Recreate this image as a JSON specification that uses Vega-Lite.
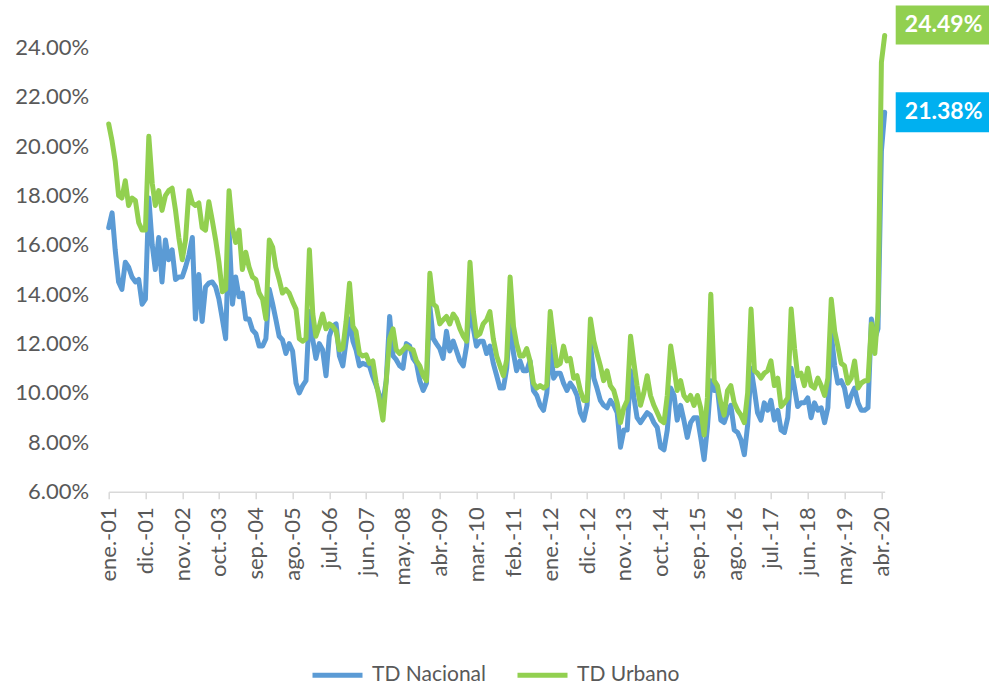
{
  "$schema": "https://vega.github.io/schema/vega-lite/v6.json",
  "width": 776,
  "height": 444.2,
  "autosize": "none",
  "padding": {"left": 108.7, "top": 47.5, "right": 104.3, "bottom": 192.3},
  "background": "white",
  "config": {"view": {"stroke": null}, "font": "Lato"},
  "data": {"values": [
    {"fecha":"2001-01-01","TD Nacional":0.167,"TD Urbano":0.209},
    {"fecha":"2001-02-01","TD Nacional":0.173,"TD Urbano":0.202},
    {"fecha":"2001-03-01","TD Nacional":0.158,"TD Urbano":0.194},
    {"fecha":"2001-04-01","TD Nacional":0.145,"TD Urbano":0.180},
    {"fecha":"2001-05-01","TD Nacional":0.142,"TD Urbano":0.179},
    {"fecha":"2001-06-01","TD Nacional":0.153,"TD Urbano":0.186},
    {"fecha":"2001-07-01","TD Nacional":0.151,"TD Urbano":0.176},
    {"fecha":"2001-08-01","TD Nacional":0.147,"TD Urbano":0.179},
    {"fecha":"2001-09-01","TD Nacional":0.145,"TD Urbano":0.178},
    {"fecha":"2001-10-01","TD Nacional":0.146,"TD Urbano":0.169},
    {"fecha":"2001-11-01","TD Nacional":0.136,"TD Urbano":0.166},
    {"fecha":"2001-12-01","TD Nacional":0.138,"TD Urbano":0.166},
    {"fecha":"2002-01-01","TD Nacional":0.179,"TD Urbano":0.204},
    {"fecha":"2002-02-01","TD Nacional":0.160,"TD Urbano":0.185},
    {"fecha":"2002-03-01","TD Nacional":0.150,"TD Urbano":0.176},
    {"fecha":"2002-04-01","TD Nacional":0.163,"TD Urbano":0.182},
    {"fecha":"2002-05-01","TD Nacional":0.145,"TD Urbano":0.174},
    {"fecha":"2002-06-01","TD Nacional":0.162,"TD Urbano":0.180},
    {"fecha":"2002-07-01","TD Nacional":0.154,"TD Urbano":0.182},
    {"fecha":"2002-08-01","TD Nacional":0.158,"TD Urbano":0.183},
    {"fecha":"2002-09-01","TD Nacional":0.146,"TD Urbano":0.174},
    {"fecha":"2002-10-01","TD Nacional":0.147,"TD Urbano":0.163},
    {"fecha":"2002-11-01","TD Nacional":0.147,"TD Urbano":0.154},
    {"fecha":"2002-12-01","TD Nacional":0.151,"TD Urbano":0.162},
    {"fecha":"2003-01-01","TD Nacional":0.156,"TD Urbano":0.182},
    {"fecha":"2003-02-01","TD Nacional":0.163,"TD Urbano":0.177},
    {"fecha":"2003-03-01","TD Nacional":0.130,"TD Urbano":0.176},
    {"fecha":"2003-04-01","TD Nacional":0.148,"TD Urbano":0.177},
    {"fecha":"2003-05-01","TD Nacional":0.129,"TD Urbano":0.167},
    {"fecha":"2003-06-01","TD Nacional":0.143,"TD Urbano":0.166},
    {"fecha":"2003-07-01","TD Nacional":0.1445,"TD Urbano":0.1775},
    {"fecha":"2003-08-01","TD Nacional":0.145,"TD Urbano":0.170},
    {"fecha":"2003-09-01","TD Nacional":0.143,"TD Urbano":0.162},
    {"fecha":"2003-10-01","TD Nacional":0.138,"TD Urbano":0.153},
    {"fecha":"2003-11-01","TD Nacional":0.130,"TD Urbano":0.141},
    {"fecha":"2003-12-01","TD Nacional":0.122,"TD Urbano":0.142},
    {"fecha":"2004-01-01","TD Nacional":0.166,"TD Urbano":0.182},
    {"fecha":"2004-02-01","TD Nacional":0.136,"TD Urbano":0.167},
    {"fecha":"2004-03-01","TD Nacional":0.147,"TD Urbano":0.161},
    {"fecha":"2004-04-01","TD Nacional":0.139,"TD Urbano":0.166},
    {"fecha":"2004-05-01","TD Nacional":0.1405,"TD Urbano":0.150},
    {"fecha":"2004-06-01","TD Nacional":0.130,"TD Urbano":0.157},
    {"fecha":"2004-07-01","TD Nacional":0.130,"TD Urbano":0.151},
    {"fecha":"2004-08-01","TD Nacional":0.1255,"TD Urbano":0.147},
    {"fecha":"2004-09-01","TD Nacional":0.124,"TD Urbano":0.146},
    {"fecha":"2004-10-01","TD Nacional":0.119,"TD Urbano":0.1405},
    {"fecha":"2004-11-01","TD Nacional":0.119,"TD Urbano":0.138},
    {"fecha":"2004-12-01","TD Nacional":0.122,"TD Urbano":0.130},
    {"fecha":"2005-01-01","TD Nacional":0.142,"TD Urbano":0.162},
    {"fecha":"2005-02-01","TD Nacional":0.136,"TD Urbano":0.159},
    {"fecha":"2005-03-01","TD Nacional":0.130,"TD Urbano":0.151},
    {"fecha":"2005-04-01","TD Nacional":0.123,"TD Urbano":0.146},
    {"fecha":"2005-05-01","TD Nacional":0.1215,"TD Urbano":0.1405},
    {"fecha":"2005-06-01","TD Nacional":0.116,"TD Urbano":0.142},
    {"fecha":"2005-07-01","TD Nacional":0.120,"TD Urbano":0.1405},
    {"fecha":"2005-08-01","TD Nacional":0.117,"TD Urbano":0.137},
    {"fecha":"2005-09-01","TD Nacional":0.104,"TD Urbano":0.134},
    {"fecha":"2005-10-01","TD Nacional":0.100,"TD Urbano":0.122},
    {"fecha":"2005-11-01","TD Nacional":0.103,"TD Urbano":0.121},
    {"fecha":"2005-12-01","TD Nacional":0.105,"TD Urbano":0.122},
    {"fecha":"2006-01-01","TD Nacional":0.133,"TD Urbano":0.158},
    {"fecha":"2006-02-01","TD Nacional":0.1215,"TD Urbano":0.132},
    {"fecha":"2006-03-01","TD Nacional":0.114,"TD Urbano":0.123},
    {"fecha":"2006-04-01","TD Nacional":0.120,"TD Urbano":0.127},
    {"fecha":"2006-05-01","TD Nacional":0.1175,"TD Urbano":0.132},
    {"fecha":"2006-06-01","TD Nacional":0.107,"TD Urbano":0.126},
    {"fecha":"2006-07-01","TD Nacional":0.123,"TD Urbano":0.128},
    {"fecha":"2006-08-01","TD Nacional":0.127,"TD Urbano":0.127},
    {"fecha":"2006-09-01","TD Nacional":0.128,"TD Urbano":0.125},
    {"fecha":"2006-10-01","TD Nacional":0.115,"TD Urbano":0.1175},
    {"fecha":"2006-11-01","TD Nacional":0.111,"TD Urbano":0.118},
    {"fecha":"2006-12-01","TD Nacional":0.121,"TD Urbano":0.129},
    {"fecha":"2007-01-01","TD Nacional":0.130,"TD Urbano":0.1445},
    {"fecha":"2007-02-01","TD Nacional":0.121,"TD Urbano":0.127},
    {"fecha":"2007-03-01","TD Nacional":0.1175,"TD Urbano":0.125},
    {"fecha":"2007-04-01","TD Nacional":0.111,"TD Urbano":0.116},
    {"fecha":"2007-05-01","TD Nacional":0.112,"TD Urbano":0.115},
    {"fecha":"2007-06-01","TD Nacional":0.1115,"TD Urbano":0.1155},
    {"fecha":"2007-07-01","TD Nacional":0.111,"TD Urbano":0.112},
    {"fecha":"2007-08-01","TD Nacional":0.1066,"TD Urbano":0.113},
    {"fecha":"2007-09-01","TD Nacional":0.103,"TD Urbano":0.104},
    {"fecha":"2007-10-01","TD Nacional":0.099,"TD Urbano":0.097},
    {"fecha":"2007-11-01","TD Nacional":0.096,"TD Urbano":0.089},
    {"fecha":"2007-12-01","TD Nacional":0.105,"TD Urbano":0.105},
    {"fecha":"2008-01-01","TD Nacional":0.131,"TD Urbano":0.122},
    {"fecha":"2008-02-01","TD Nacional":0.115,"TD Urbano":0.126},
    {"fecha":"2008-03-01","TD Nacional":0.1135,"TD Urbano":0.1175},
    {"fecha":"2008-04-01","TD Nacional":0.111,"TD Urbano":0.116},
    {"fecha":"2008-05-01","TD Nacional":0.110,"TD Urbano":0.1175},
    {"fecha":"2008-06-01","TD Nacional":0.120,"TD Urbano":0.119},
    {"fecha":"2008-07-01","TD Nacional":0.119,"TD Urbano":0.118},
    {"fecha":"2008-08-01","TD Nacional":0.114,"TD Urbano":0.1175},
    {"fecha":"2008-09-01","TD Nacional":0.112,"TD Urbano":0.113},
    {"fecha":"2008-10-01","TD Nacional":0.105,"TD Urbano":0.111},
    {"fecha":"2008-11-01","TD Nacional":0.101,"TD Urbano":0.107},
    {"fecha":"2008-12-01","TD Nacional":0.104,"TD Urbano":0.105},
    {"fecha":"2009-01-01","TD Nacional":0.135,"TD Urbano":0.1485},
    {"fecha":"2009-02-01","TD Nacional":0.122,"TD Urbano":0.136},
    {"fecha":"2009-03-01","TD Nacional":0.120,"TD Urbano":0.135},
    {"fecha":"2009-04-01","TD Nacional":0.118,"TD Urbano":0.128},
    {"fecha":"2009-05-01","TD Nacional":0.114,"TD Urbano":0.1296},
    {"fecha":"2009-06-01","TD Nacional":0.125,"TD Urbano":0.131},
    {"fecha":"2009-07-01","TD Nacional":0.117,"TD Urbano":0.128},
    {"fecha":"2009-08-01","TD Nacional":0.121,"TD Urbano":0.132},
    {"fecha":"2009-09-01","TD Nacional":0.117,"TD Urbano":0.130},
    {"fecha":"2009-10-01","TD Nacional":0.113,"TD Urbano":0.126},
    {"fecha":"2009-11-01","TD Nacional":0.111,"TD Urbano":0.123},
    {"fecha":"2009-12-01","TD Nacional":0.119,"TD Urbano":0.121},
    {"fecha":"2010-01-01","TD Nacional":0.136,"TD Urbano":0.153},
    {"fecha":"2010-02-01","TD Nacional":0.126,"TD Urbano":0.133},
    {"fecha":"2010-03-01","TD Nacional":0.119,"TD Urbano":0.123},
    {"fecha":"2010-04-01","TD Nacional":0.121,"TD Urbano":0.124},
    {"fecha":"2010-05-01","TD Nacional":0.121,"TD Urbano":0.128},
    {"fecha":"2010-06-01","TD Nacional":0.116,"TD Urbano":0.1296},
    {"fecha":"2010-07-01","TD Nacional":0.119,"TD Urbano":0.133},
    {"fecha":"2010-08-01","TD Nacional":0.112,"TD Urbano":0.122},
    {"fecha":"2010-09-01","TD Nacional":0.107,"TD Urbano":0.115},
    {"fecha":"2010-10-01","TD Nacional":0.102,"TD Urbano":0.111},
    {"fecha":"2010-11-01","TD Nacional":0.102,"TD Urbano":0.107},
    {"fecha":"2010-12-01","TD Nacional":0.110,"TD Urbano":0.1135},
    {"fecha":"2011-01-01","TD Nacional":0.130,"TD Urbano":0.147},
    {"fecha":"2011-02-01","TD Nacional":0.116,"TD Urbano":0.127},
    {"fecha":"2011-03-01","TD Nacional":0.109,"TD Urbano":0.120},
    {"fecha":"2011-04-01","TD Nacional":0.113,"TD Urbano":0.115},
    {"fecha":"2011-05-01","TD Nacional":0.109,"TD Urbano":0.115},
    {"fecha":"2011-06-01","TD Nacional":0.109,"TD Urbano":0.118},
    {"fecha":"2011-07-01","TD Nacional":0.113,"TD Urbano":0.113},
    {"fecha":"2011-08-01","TD Nacional":0.101,"TD Urbano":0.104},
    {"fecha":"2011-09-01","TD Nacional":0.099,"TD Urbano":0.102},
    {"fecha":"2011-10-01","TD Nacional":0.095,"TD Urbano":0.103},
    {"fecha":"2011-11-01","TD Nacional":0.093,"TD Urbano":0.102},
    {"fecha":"2011-12-01","TD Nacional":0.100,"TD Urbano":0.103},
    {"fecha":"2012-01-01","TD Nacional":0.119,"TD Urbano":0.133},
    {"fecha":"2012-02-01","TD Nacional":0.106,"TD Urbano":0.121},
    {"fecha":"2012-03-01","TD Nacional":0.108,"TD Urbano":0.111},
    {"fecha":"2012-04-01","TD Nacional":0.108,"TD Urbano":0.112},
    {"fecha":"2012-05-01","TD Nacional":0.104,"TD Urbano":0.119},
    {"fecha":"2012-06-01","TD Nacional":0.101,"TD Urbano":0.113},
    {"fecha":"2012-07-01","TD Nacional":0.104,"TD Urbano":0.114},
    {"fecha":"2012-08-01","TD Nacional":0.102,"TD Urbano":0.106},
    {"fecha":"2012-09-01","TD Nacional":0.099,"TD Urbano":0.107},
    {"fecha":"2012-10-01","TD Nacional":0.092,"TD Urbano":0.101},
    {"fecha":"2012-11-01","TD Nacional":0.089,"TD Urbano":0.097},
    {"fecha":"2012-12-01","TD Nacional":0.095,"TD Urbano":0.097},
    {"fecha":"2013-01-01","TD Nacional":0.120,"TD Urbano":0.130},
    {"fecha":"2013-02-01","TD Nacional":0.106,"TD Urbano":0.121},
    {"fecha":"2013-03-01","TD Nacional":0.102,"TD Urbano":0.116},
    {"fecha":"2013-04-01","TD Nacional":0.097,"TD Urbano":0.111},
    {"fecha":"2013-05-01","TD Nacional":0.095,"TD Urbano":0.105},
    {"fecha":"2013-06-01","TD Nacional":0.094,"TD Urbano":0.109},
    {"fecha":"2013-07-01","TD Nacional":0.097,"TD Urbano":0.103},
    {"fecha":"2013-08-01","TD Nacional":0.095,"TD Urbano":0.101},
    {"fecha":"2013-09-01","TD Nacional":0.092,"TD Urbano":0.096},
    {"fecha":"2013-10-01","TD Nacional":0.078,"TD Urbano":0.088},
    {"fecha":"2013-11-01","TD Nacional":0.085,"TD Urbano":0.094},
    {"fecha":"2013-12-01","TD Nacional":0.085,"TD Urbano":0.097},
    {"fecha":"2014-01-01","TD Nacional":0.109,"TD Urbano":0.123},
    {"fecha":"2014-02-01","TD Nacional":0.098,"TD Urbano":0.112},
    {"fecha":"2014-03-01","TD Nacional":0.090,"TD Urbano":0.103},
    {"fecha":"2014-04-01","TD Nacional":0.088,"TD Urbano":0.095},
    {"fecha":"2014-05-01","TD Nacional":0.090,"TD Urbano":0.100},
    {"fecha":"2014-06-01","TD Nacional":0.092,"TD Urbano":0.107},
    {"fecha":"2014-07-01","TD Nacional":0.091,"TD Urbano":0.099},
    {"fecha":"2014-08-01","TD Nacional":0.088,"TD Urbano":0.095},
    {"fecha":"2014-09-01","TD Nacional":0.086,"TD Urbano":0.092},
    {"fecha":"2014-10-01","TD Nacional":0.078,"TD Urbano":0.089},
    {"fecha":"2014-11-01","TD Nacional":0.077,"TD Urbano":0.088},
    {"fecha":"2014-12-01","TD Nacional":0.085,"TD Urbano":0.099},
    {"fecha":"2015-01-01","TD Nacional":0.102,"TD Urbano":0.119},
    {"fecha":"2015-02-01","TD Nacional":0.099,"TD Urbano":0.110},
    {"fecha":"2015-03-01","TD Nacional":0.089,"TD Urbano":0.101},
    {"fecha":"2015-04-01","TD Nacional":0.095,"TD Urbano":0.105},
    {"fecha":"2015-05-01","TD Nacional":0.089,"TD Urbano":0.099},
    {"fecha":"2015-06-01","TD Nacional":0.082,"TD Urbano":0.097},
    {"fecha":"2015-07-01","TD Nacional":0.088,"TD Urbano":0.099},
    {"fecha":"2015-08-01","TD Nacional":0.090,"TD Urbano":0.095},
    {"fecha":"2015-09-01","TD Nacional":0.090,"TD Urbano":0.099},
    {"fecha":"2015-10-01","TD Nacional":0.082,"TD Urbano":0.094},
    {"fecha":"2015-11-01","TD Nacional":0.073,"TD Urbano":0.083},
    {"fecha":"2015-12-01","TD Nacional":0.086,"TD Urbano":0.098},
    {"fecha":"2016-01-01","TD Nacional":0.105,"TD Urbano":0.140},
    {"fecha":"2016-02-01","TD Nacional":0.101,"TD Urbano":0.105},
    {"fecha":"2016-03-01","TD Nacional":0.102,"TD Urbano":0.103},
    {"fecha":"2016-04-01","TD Nacional":0.089,"TD Urbano":0.096},
    {"fecha":"2016-05-01","TD Nacional":0.088,"TD Urbano":0.091},
    {"fecha":"2016-06-01","TD Nacional":0.092,"TD Urbano":0.101},
    {"fecha":"2016-07-01","TD Nacional":0.095,"TD Urbano":0.103},
    {"fecha":"2016-08-01","TD Nacional":0.085,"TD Urbano":0.096},
    {"fecha":"2016-09-01","TD Nacional":0.084,"TD Urbano":0.093},
    {"fecha":"2016-10-01","TD Nacional":0.081,"TD Urbano":0.091},
    {"fecha":"2016-11-01","TD Nacional":0.075,"TD Urbano":0.088},
    {"fecha":"2016-12-01","TD Nacional":0.087,"TD Urbano":0.100},
    {"fecha":"2017-01-01","TD Nacional":0.110,"TD Urbano":0.134},
    {"fecha":"2017-02-01","TD Nacional":0.101,"TD Urbano":0.109},
    {"fecha":"2017-03-01","TD Nacional":0.092,"TD Urbano":0.108},
    {"fecha":"2017-04-01","TD Nacional":0.089,"TD Urbano":0.106},
    {"fecha":"2017-05-01","TD Nacional":0.096,"TD Urbano":0.108},
    {"fecha":"2017-06-01","TD Nacional":0.093,"TD Urbano":0.109},
    {"fecha":"2017-07-01","TD Nacional":0.097,"TD Urbano":0.113},
    {"fecha":"2017-08-01","TD Nacional":0.089,"TD Urbano":0.103},
    {"fecha":"2017-09-01","TD Nacional":0.093,"TD Urbano":0.106},
    {"fecha":"2017-10-01","TD Nacional":0.085,"TD Urbano":0.0945},
    {"fecha":"2017-11-01","TD Nacional":0.084,"TD Urbano":0.096},
    {"fecha":"2017-12-01","TD Nacional":0.090,"TD Urbano":0.098},
    {"fecha":"2018-01-01","TD Nacional":0.110,"TD Urbano":0.134},
    {"fecha":"2018-02-01","TD Nacional":0.102,"TD Urbano":0.118},
    {"fecha":"2018-03-01","TD Nacional":0.0945,"TD Urbano":0.107},
    {"fecha":"2018-04-01","TD Nacional":0.096,"TD Urbano":0.108},
    {"fecha":"2018-05-01","TD Nacional":0.096,"TD Urbano":0.103},
    {"fecha":"2018-06-01","TD Nacional":0.098,"TD Urbano":0.110},
    {"fecha":"2018-07-01","TD Nacional":0.090,"TD Urbano":0.103},
    {"fecha":"2018-08-01","TD Nacional":0.096,"TD Urbano":0.102},
    {"fecha":"2018-09-01","TD Nacional":0.093,"TD Urbano":0.106},
    {"fecha":"2018-10-01","TD Nacional":0.094,"TD Urbano":0.103},
    {"fecha":"2018-11-01","TD Nacional":0.088,"TD Urbano":0.099},
    {"fecha":"2018-12-01","TD Nacional":0.094,"TD Urbano":0.106},
    {"fecha":"2019-01-01","TD Nacional":0.124,"TD Urbano":0.138},
    {"fecha":"2019-02-01","TD Nacional":0.111,"TD Urbano":0.125},
    {"fecha":"2019-03-01","TD Nacional":0.104,"TD Urbano":0.119},
    {"fecha":"2019-04-01","TD Nacional":0.105,"TD Urbano":0.112},
    {"fecha":"2019-05-01","TD Nacional":0.102,"TD Urbano":0.111},
    {"fecha":"2019-06-01","TD Nacional":0.0945,"TD Urbano":0.104},
    {"fecha":"2019-07-01","TD Nacional":0.099,"TD Urbano":0.106},
    {"fecha":"2019-08-01","TD Nacional":0.102,"TD Urbano":0.113},
    {"fecha":"2019-09-01","TD Nacional":0.096,"TD Urbano":0.102},
    {"fecha":"2019-10-01","TD Nacional":0.093,"TD Urbano":0.104},
    {"fecha":"2019-11-01","TD Nacional":0.093,"TD Urbano":0.105},
    {"fecha":"2019-12-01","TD Nacional":0.094,"TD Urbano":0.105},
    {"fecha":"2020-01-01","TD Nacional":0.130,"TD Urbano":0.128},
    {"fecha":"2020-02-01","TD Nacional":0.122,"TD Urbano":0.116},
    {"fecha":"2020-03-01","TD Nacional":0.126,"TD Urbano":0.133},
    {"fecha":"2020-04-01","TD Nacional":0.198,"TD Urbano":0.234},
    {"fecha":"2020-05-01","TD Nacional":0.2138,"TD Urbano":0.2449}
  ]},
  "transform": [{"fold": ["TD Nacional", "TD Urbano"], "as": ["serie", "valor"]}],
  "encoding": {
    "x": {
      "field": "fecha", "type": "temporal",
      "scale": {"type": "utc", "domain": [{"year": 2001, "month": 1, "date": 1, "utc": true}, {"year": 2020, "month": 5, "date": 1, "utc": true}]},
      "axis": {
        "title": null, "grid": false,
        "values": [
          {"year": 2001, "month": 1, "date": 1, "utc": true},
          {"year": 2001, "month": 12, "date": 1, "utc": true},
          {"year": 2002, "month": 11, "date": 1, "utc": true},
          {"year": 2003, "month": 10, "date": 1, "utc": true},
          {"year": 2004, "month": 9, "date": 1, "utc": true},
          {"year": 2005, "month": 8, "date": 1, "utc": true},
          {"year": 2006, "month": 7, "date": 1, "utc": true},
          {"year": 2007, "month": 6, "date": 1, "utc": true},
          {"year": 2008, "month": 5, "date": 1, "utc": true},
          {"year": 2009, "month": 4, "date": 1, "utc": true},
          {"year": 2010, "month": 3, "date": 1, "utc": true},
          {"year": 2011, "month": 2, "date": 1, "utc": true},
          {"year": 2012, "month": 1, "date": 1, "utc": true},
          {"year": 2012, "month": 12, "date": 1, "utc": true},
          {"year": 2013, "month": 11, "date": 1, "utc": true},
          {"year": 2014, "month": 10, "date": 1, "utc": true},
          {"year": 2015, "month": 9, "date": 1, "utc": true},
          {"year": 2016, "month": 8, "date": 1, "utc": true},
          {"year": 2017, "month": 7, "date": 1, "utc": true},
          {"year": 2018, "month": 6, "date": 1, "utc": true},
          {"year": 2019, "month": 5, "date": 1, "utc": true},
          {"year": 2020, "month": 4, "date": 1, "utc": true}
        ],
        "labelExpr": "['ene','feb','mar','abr','may','jun','jul','ago','sep','oct','nov','dic'][utcmonth(datum.value)] + '.-' + utcFormat(datum.value, '%y')",
        "labelAngle": -90, "labelFont": "Lato", "labelFontSize": 22, "labelColor": "#595959",
        "labelPadding": 8, "labelFlush": false, "labelOverlap": false, "labelBound": false,
        "domainColor": "#D9D9D9", "domainWidth": 1.5,
        "tickColor": "#D9D9D9", "tickWidth": 1.5, "tickSize": 7
      }
    },
    "y": {
      "field": "valor", "type": "quantitative",
      "scale": {"domain": [0.06, 0.24], "nice": false, "zero": false},
      "axis": {
        "title": null, "grid": false, "domain": false, "ticks": false,
        "values": [0.06, 0.08, 0.10, 0.12, 0.14, 0.16, 0.18, 0.20, 0.22, 0.24],
        "format": ".2%", "labelFont": "Lato", "labelFontSize": 22, "labelColor": "#595959", "labelPadding": 20
      }
    }
  },
  "layer": [
    {
      "mark": {"type": "line", "strokeWidth": 5, "strokeJoin": "round", "strokeCap": "round"},
      "encoding": {
        "color": {
          "field": "serie", "type": "nominal",
          "scale": {"domain": ["TD Nacional", "TD Urbano"], "range": ["#5B9BD5", "#92D050"]},
          "legend": {
            "title": null, "orient": "none", "direction": "horizontal",
            "legendX": 201.3, "legendY": 600, "padding": 0,
            "symbolType": "stroke", "symbolSize": 2500, "symbolStrokeWidth": 5,
            "labelFont": "Lato", "labelFontSize": 21, "labelColor": "#595959",
            "labelOffset": 7, "columnPadding": 21
          }
        }
      }
    },
    {
      "transform": [{"filter": "datum.serie == 'TD Urbano' && time(toDate(datum.fecha)) == time(toDate('2020-05-01'))"}],
      "mark": {"type": "point", "shape": "M11,-30H105V9H11Z", "size": 4, "filled": true, "color": "#92D050", "opacity": 1, "strokeWidth": 0}
    },
    {
      "transform": [{"filter": "datum.serie == 'TD Nacional' && time(toDate(datum.fecha)) == time(toDate('2020-05-01'))"}],
      "mark": {"type": "point", "shape": "M11,-20H105V20H11Z", "size": 4, "filled": true, "color": "#00B0F0", "opacity": 1, "strokeWidth": 0}
    },
    {
      "transform": [{"filter": "datum.serie == 'TD Urbano' && time(toDate(datum.fecha)) == time(toDate('2020-05-01'))"}],
      "mark": {"type": "text", "dx": 59, "dy": -10.5, "align": "center", "baseline": "middle", "font": "Lato", "fontWeight": "bold", "fontSize": 23, "color": "white"},
      "encoding": {"text": {"field": "valor", "type": "quantitative", "format": ".2%"}}
    },
    {
      "transform": [{"filter": "datum.serie == 'TD Nacional' && time(toDate(datum.fecha)) == time(toDate('2020-05-01'))"}],
      "mark": {"type": "text", "dx": 59, "dy": 0, "align": "center", "baseline": "middle", "font": "Lato", "fontWeight": "bold", "fontSize": 23, "color": "white"},
      "encoding": {"text": {"field": "valor", "type": "quantitative", "format": ".2%"}}
    }
  ]
}
